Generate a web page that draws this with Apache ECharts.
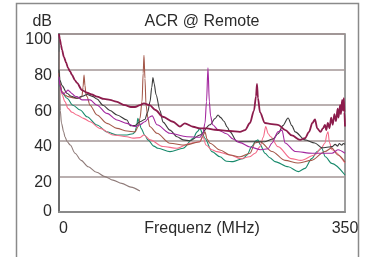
<!DOCTYPE html>
<html>
<head>
<meta charset="utf-8">
<script src="https://cdn.jsdelivr.net/npm/echarts@6/dist/echarts.min.js"></script>
<style>
  html, body { margin: 0; padding: 0; background: #fff; }
  #chart { width: 366px; height: 257px; }
</style>
</head>
<body>
<div id="chart"></div>
<script>
// values: [MHz, dB]
var xTicks = [0, 350];
var yTicks = [0, 20, 40, 60, 80, 100];

var maroon = [[0,100],[1.2,97],[2.4,94],[3.7,91],[6.1,87],[8.6,84],[11,81],[13.5,79],[15.9,77],[19.6,74],[22,72.5],[28.1,68.5],[34.3,67],[40,66],[46.5,64.8],[55,63.5],[62.4,63],[70,62],[80.8,60],[88,59],[93,59],[99,60],[104,61],[111,60],[118,57.3],[127,53.5],[139.5,50.7],[148,48],[154,49.8],[164,47.9],[172.6,47],[181,47],[190.9,46.2],[209,45.5],[221.5,45],[227.6,46],[233.7,50],[238.6,57],[241.1,65],[242.3,72],[243.5,64],[246,56],[252,50],[258,49.5],[268,49],[277,46],[285,43],[295,40.5],[301,41.5],[306,45],[310,50],[313.3,52],[316,47],[320,45],[323,47],[325.5,49],[327,46],[329,50],[331,47],[333,53],[335,49],[337,55],[339,51],[341,58],[342,53],[344,60],[345,55],[346.5,63],[347.5,57],[348.5,64],[349.3,56],[350,48]];

var purple = [[0,76],[1.2,71],[3.7,67],[6,66.5],[8.6,67.5],[11,68.5],[13.5,67.5],[15.9,66.5],[19.6,65],[22,64.8],[28.1,63],[35,63],[38,63],[46.5,60],[58.7,55.4],[71,51.7],[83.2,49.8],[93,48],[99,49],[105,50.7],[111.4,53.5],[114,54],[119.9,49],[135.8,44.2],[156.6,42.3],[172.6,42],[176,44],[178.7,50],[180.5,62],[182.3,81],[184,62],[185.5,54],[188,49],[195,46],[205,44],[213,41],[221.5,39],[233.7,36.5],[247,35],[255.8,35.5],[260.7,38.8],[268,45],[272.9,46],[276.6,38.8],[289,34],[310,33],[334,33],[341.4,35],[350,33]];

var black = [[0,80],[1.2,74],[3.7,71],[9.8,66.7],[15,65],[22,63.9],[28,65],[34.3,66],[41.6,64.8],[46.5,63.5],[53.8,60],[62.4,57],[71,54.5],[83.2,51.7],[87,48.5],[93,48.5],[99,50.7],[105,52],[108.5,56],[111.4,62],[113.5,70],[115,75.5],[116.5,72],[118.7,66],[123.6,57],[127.3,50.5],[135.8,46],[144.4,42.3],[151.8,40.5],[160.3,40],[172.6,43.3],[184.8,49],[191,52.5],[194.6,54.5],[198,53],[201.9,51],[205.6,47.9],[209.3,45],[217.8,39.5],[233.7,39.5],[252,39.5],[262,41],[268,44],[274,48.5],[280.3,52.8],[285,48.5],[289,45],[301,40.5],[313,38.8],[322,36],[330,36.5],[334,36.7],[338,38],[341,37],[343,38.5],[346,37.5],[348,38.5],[350,38]];

var brown = [[0,78],[1.2,72],[3.7,67.6],[8,65.5],[11,64.8],[19.6,64],[25.7,63.9],[28.1,65],[29.4,70],[30.6,77],[31.8,71],[33,66],[34.3,64.8],[37.9,60],[46.5,54.5],[58.7,49.8],[71,47],[83.2,45.5],[93,45],[97,48],[99.1,52.6],[101.6,62],[103,78],[104,88],[105.2,75],[106.5,60],[108.9,52.6],[111,48],[119.9,44.2],[135.8,38.6],[154.2,37.6],[172.6,39.5],[176.2,43],[178.7,45],[181.1,41],[184.8,38.6],[197,34.8],[209.3,32],[221.5,31],[233.7,33],[240,38.8],[246,39.5],[260.7,34],[276.6,29],[292.5,27.5],[309,29],[325.5,34],[333.7,36],[341.4,32],[350,28]];

var teal = [[0,76],[1.2,70.4],[3.7,67],[9.8,63.9],[17,60],[26,57.3],[34.3,53.5],[46.5,48.9],[58.7,45],[71,43.3],[83.2,43.3],[90.6,44],[93,45],[95,48],[96.5,52.6],[98.5,50],[100.4,47],[105.2,43],[108.9,40.5],[116,37],[121.2,35.8],[135.8,33.9],[152,35.8],[164,41.3],[169,45],[172.6,47],[175.5,44],[178.7,41.3],[187.2,33.9],[197,31],[205,28.5],[213,28.3],[225.2,30],[230,32],[235.8,36.7],[241,40],[243.5,40.5],[246,38],[252,33],[258,30.5],[264.3,28.3],[280.6,25.4],[292.9,22.7],[301,24.5],[309.3,30],[316,34],[321.5,35.8],[326,31],[333.7,27.3],[350,20.8]];

var pink = [[0,78],[1.2,72.3],[3.7,66],[7.3,62],[11,58.2],[15.9,56],[22,54.5],[30,52.6],[37.9,50.7],[50.2,47],[66.1,43.3],[83.2,42.3],[90.6,41.5],[99,41.8],[104,43.3],[111.4,40.5],[127.3,36.8],[144.4,35.8],[160.3,38.6],[172,39.5],[176.2,42.3],[179.9,37.6],[187,35],[193.4,33.9],[209.3,32],[222,30],[233,31],[240,33],[246,36.7],[250,42],[253,48],[256,44],[259,42.3],[268,36.7],[284,30],[296,29],[313,32],[321,36],[325.5,38.8],[328,44],[329.2,45],[331,39],[334,35],[350,27.5]];

var taupe = [[0.3,90],[0.8,75],[1.6,57],[3,50],[5.7,45],[7.3,42.3],[10,39.5],[13.8,37.6],[19.6,33],[27,29],[35.9,25.4],[46,22.3],[56.3,19.9],[66,17.9],[76.7,16.1],[88,14],[99,11.8]];

var font = 'Liberation Sans, Arial, sans-serif';
var textColor = '#2b2b2b';

function line(name, data, color, width) {
  return {
    name: name,
    type: 'line',
    data: data,
    smooth: 0.3,
    smoothMonotone: 'x',
    showSymbol: false,
    lineStyle: { color: color, width: width },
    itemStyle: { color: color }
  };
}

var chart = echarts.init(document.getElementById('chart'), null, { renderer: 'canvas' });
chart.setOption({
  animation: false,
  backgroundColor: '#fff',
  title: {
    text: 'ACR @ Remote',
    left: 202,
    top: 14,
    padding: 0,
    textAlign: 'center',
    textStyle: { fontSize: 16, fontWeight: 'normal', color: textColor, fontFamily: font }
  },
  graphic: [{
    type: 'rect',
    shape: { x: 16.5, y: 3.5, width: 342, height: 300 },
    style: { fill: 'none', stroke: '#8a8a8a', lineWidth: 1.5 },
    silent: true
  }],
  grid: {
    left: 59, right: 21, top: 34, bottom: 45,
    outerBoundsMode: 'none',
    containLabel: false,
    show: true, borderColor: '#7e7e7e', borderWidth: 1.5
  },
  xAxis: {
    type: 'value',
    min: xTicks[0], max: xTicks[1], interval: 350,
    name: 'Frequenz (MHz)',
    nameLocation: 'middle',
    nameGap: 17,
    nameMoveOverlap: false,
    nameTextStyle: { fontSize: 16, color: textColor, fontFamily: font, verticalAlign: 'middle' },
    axisLine: { lineStyle: { color: '#8a8a8a', width: 2 } },
    axisTick: { show: false },
    splitLine: { show: false },
    axisLabel: { fontSize: 16, color: textColor, fontFamily: font, margin: 9, alignMinLabel: 'left' }
  },
  yAxis: {
    type: 'value',
    min: yTicks[0], max: yTicks[yTicks.length - 1], interval: 20,
    name: 'dB',
    nameLocation: 'end',
    nameGap: 12,
    nameMoveOverlap: false,
    nameTextStyle: { fontSize: 16, color: textColor, fontFamily: font, align: 'right', verticalAlign: 'middle', padding: [0, 7, 0, 0] },
    axisLine: { show: true, lineStyle: { color: '#6e6e6e', width: 2 } },
    axisTick: { show: false },
    splitLine: { lineStyle: { color: '#a39696', width: 1.5 } },
    axisLabel: {
      margin: 7,
      formatter: function(v) { return v === 0 ? '{z|0}' : '{a|' + v + '}'; },
      rich: {
        a: { fontSize: 16, color: textColor, fontFamily: font, padding: [12, 0, 0, 0] },
        z: { fontSize: 16, color: textColor, fontFamily: font }
      }
    }
  },
  series: [
    line('taupe', taupe, '#8f7b79', 1.1),
    line('teal', teal, '#188a6c', 1.1),
    line('pink', pink, '#f56c8a', 1.1),
    line('brown', brown, '#a4584a', 1.1),
    line('black', black, '#3b3b3b', 1.1),
    line('purple', purple, '#a3279f', 1.1),
    line('maroon', maroon, '#8c1c4c', 1.8)
  ]
});
</script>
</body>
</html>
